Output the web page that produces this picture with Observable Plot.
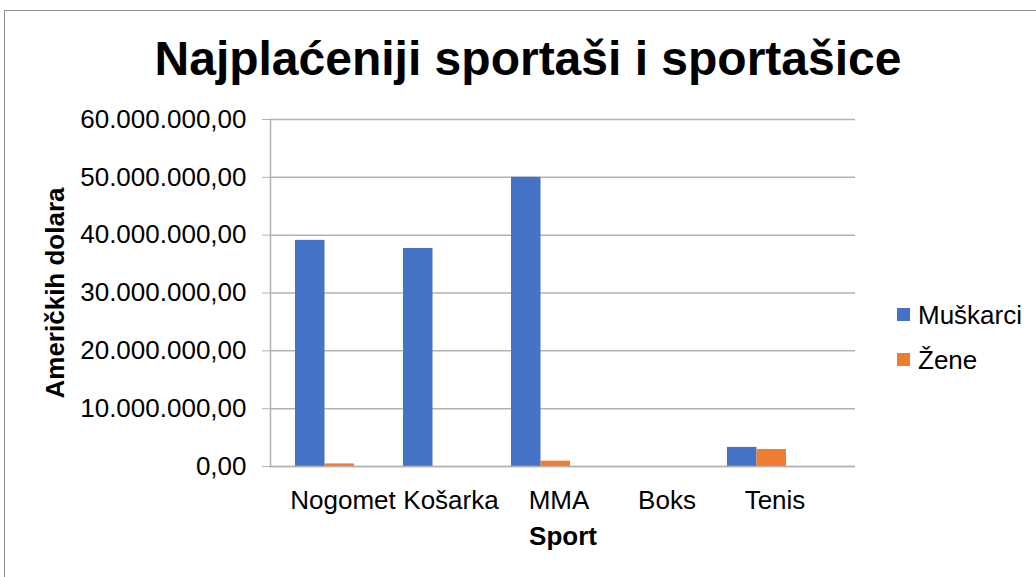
<!DOCTYPE html>
<html><head><meta charset="utf-8">
<script src="https://cdn.jsdelivr.net/npm/d3@7"></script>
<script src="https://cdn.jsdelivr.net/npm/@observablehq/plot@0.6"></script>
<style>
body{margin:0;background:#fff;font-family:"Liberation Sans",Arial,sans-serif;}
#wrap{position:relative;width:1036px;height:577px;overflow:hidden;background:#fff;}
#border{position:absolute;left:4px;top:10px;width:1100px;height:700px;border:1px solid #8f8f8f;box-sizing:border-box;}
#title{position:absolute;left:12px;top:35px;width:1032px;text-align:center;font-weight:bold;font-size:48px;line-height:48px;color:#000;margin:0;}
#chart{position:absolute;left:0;top:100px;}
.lg{position:absolute;font-size:26px;line-height:26px;color:#000;white-space:nowrap;}
.sw{position:absolute;width:13px;height:13px;}
</style>
</head><body>
<div id="wrap">
  <div id="border"></div>
  <h1 id="title"></h1>
  <div id="chart"></div>
  <div id="legend"></div>
</div>
<script>
const title = "Najplaćeniji sportaši i sportašice";
const sports = ["Nogomet", "Košarka", "MMA", "Boks", "Tenis"];
const seriesNames = ["Muškarci", "Žene"];
const men   = [39100000, 37700000, 50000000, 0, 3300000];
const women = [450000, 0, 920000, 0, 2940000];
const yTicks = [0, 10000000, 20000000, 30000000, 40000000, 50000000, 60000000];
const xLabel = "Sport";
const yLabel = "Američkih dolara";
const colors = ["#4472C4", "#ED7D31"];

document.getElementById("title").textContent = title;

const hr = d3.formatLocale({decimal: ",", thousands: ".", grouping: [3], currency: ["", " €"]});
const fmt = hr.format(",.2f");

const rows = sports.map((s, i) => ({sport: s, men: men[i], women: women[i]}));
const font = '"Liberation Sans", Arial, sans-serif';
const grey = "#b3b3b3";

const chart = Plot.plot({
  width: 1036,
  height: 477,
  marginTop: 19,
  marginBottom: 111,
  marginLeft: 270,
  marginRight: 181,
  style: {fontFamily: font, fontSize: "26px", color: "#000", background: "transparent", overflow: "visible"},
  x: {domain: sports, paddingInner: 0.454, paddingOuter: 0.43, align: 0.27},
  y: {domain: [0, 60000000]},
  marks: [
    Plot.gridY(yTicks, {stroke: grey, strokeOpacity: 1, strokeWidth: 1.5}),
    Plot.barY(rows, {x: "sport", y: "men", fill: colors[0], insetRight: 29.5}),
    Plot.barY(rows, {x: "sport", y: "women", fill: colors[1], insetLeft: 29.5}),
    Plot.ruleY([0], {stroke: grey, strokeWidth: 1.5}),
    Plot.frame({anchor: "left", stroke: grey, strokeWidth: 1.5}),
    Plot.axisY(yTicks, {tickFormat: fmt, tickSize: 8, tickPadding: 16, stroke: grey, fill: "#000", label: null}),
    Plot.axisY({ticks: [], label: yLabel, labelAnchor: "center", labelArrow: "none", labelOffset: 225, fontWeight: "bold", fill: "#000"}),
    Plot.axisX({tickSize: 0, tickPadding: 24, dx: 18, fill: "#000", label: null}),
    Plot.axisX({ticks: [], label: xLabel, labelAnchor: "center", labelArrow: "none", labelOffset: 78, fontWeight: "bold", fill: "#000"})
  ]
});
document.getElementById("chart").appendChild(chart);

const legend = document.getElementById("legend");
const legendTops = [302, 347];
seriesNames.forEach((name, i) => {
  const sw = document.createElement("div");
  sw.className = "sw";
  sw.style.left = "897px";
  sw.style.top = (legendTops[i] + 6) + "px";
  sw.style.background = colors[i];
  legend.appendChild(sw);
  const t = document.createElement("div");
  t.className = "lg";
  t.style.left = "918px";
  t.style.top = legendTops[i] + "px";
  t.textContent = name;
  legend.appendChild(t);
});
</script>
</body></html>
